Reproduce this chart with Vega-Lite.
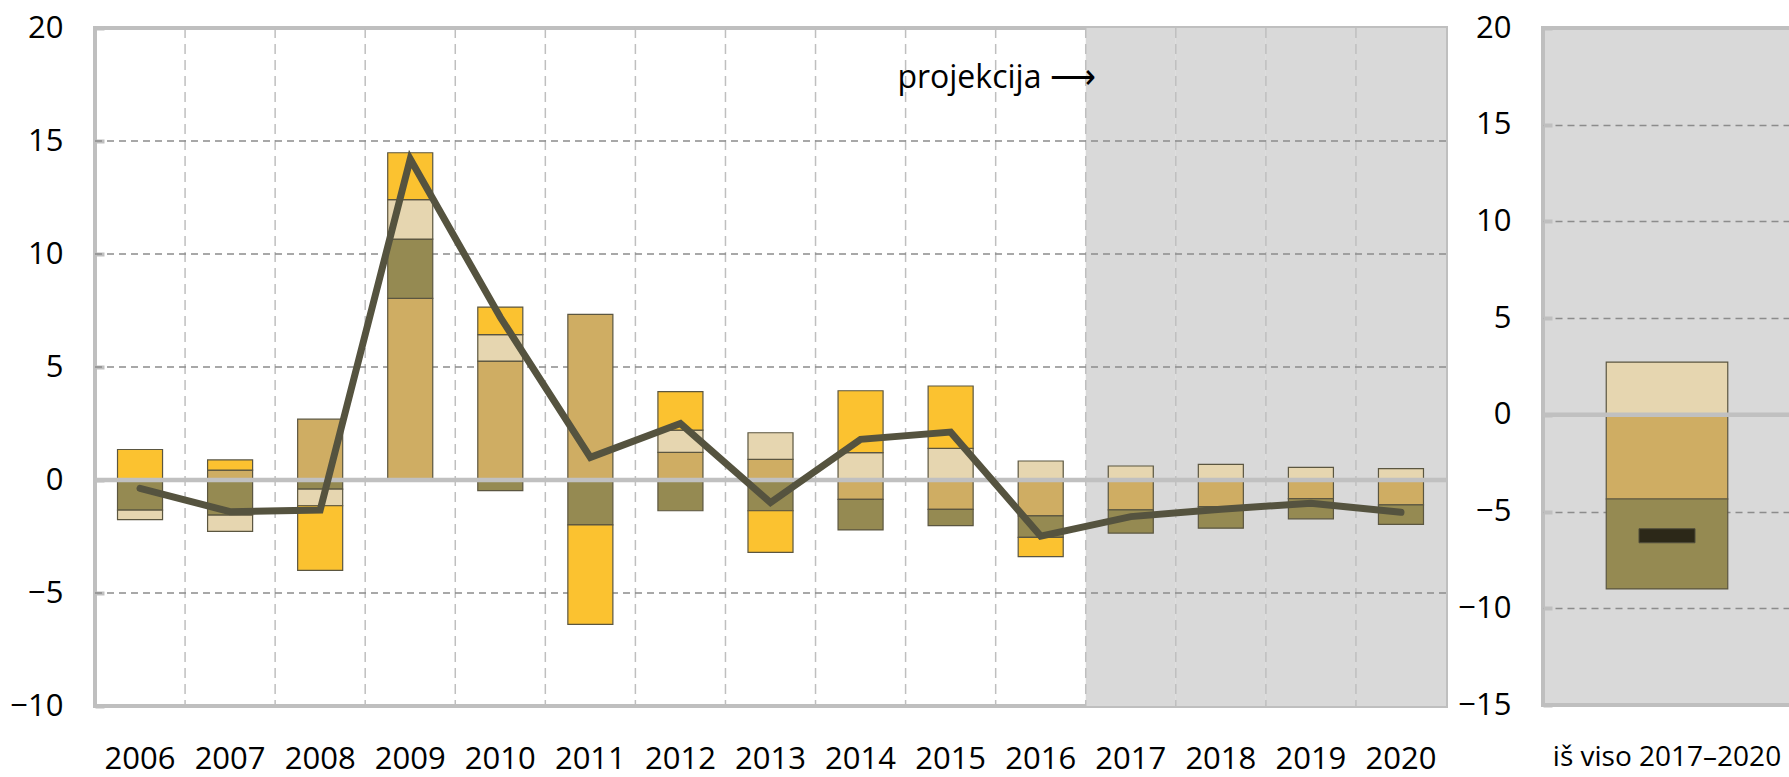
{
  "$schema": "https://vega.github.io/schema/vega-lite/v6.json",
  "padding": {"left": 7, "top": 10, "right": 0, "bottom": 0},
  "background": "white",
  "spacing": 4,
  "config": {
    "view": {"stroke": "#bfbfbf", "strokeWidth": 4},
    "axis": {"labelFont": "Open Sans", "labelFontSize": 31, "labelColor": "#000000", "domain": false, "ticks": false, "labelLimit": 0}
  },
  "datasets": {
    "proj": [{"year": 2017}, {"year": 2018}, {"year": 2019}, {"year": 2020}],
    "vgrid": [{"year": 2007}, {"year": 2008}, {"year": 2009}, {"year": 2010}, {"year": 2011}, {"year": 2012}, {"year": 2013}, {"year": 2014}, {"year": 2015}, {"year": 2016}, {"year": 2017}, {"year": 2018}, {"year": 2019}, {"year": 2020}],
    "hgrid": [{"v": -5}, {"v": 5}, {"v": 10}, {"v": 15}],
    "bars": [
      {"year": 2006, "comp": "yellow", "ord": 4, "value": 1.35},
      {"year": 2006, "comp": "olive", "ord": 2, "value": -1.33},
      {"year": 2006, "comp": "beige", "ord": 3, "value": -0.42},
      {"year": 2007, "comp": "tan", "ord": 1, "value": 0.44},
      {"year": 2007, "comp": "yellow", "ord": 4, "value": 0.45},
      {"year": 2007, "comp": "olive", "ord": 2, "value": -1.55},
      {"year": 2007, "comp": "beige", "ord": 3, "value": -0.72},
      {"year": 2008, "comp": "tan", "ord": 1, "value": 2.69},
      {"year": 2008, "comp": "olive", "ord": 2, "value": -0.4},
      {"year": 2008, "comp": "beige", "ord": 3, "value": -0.74},
      {"year": 2008, "comp": "yellow", "ord": 4, "value": -2.86},
      {"year": 2009, "comp": "tan", "ord": 1, "value": 8.04},
      {"year": 2009, "comp": "olive", "ord": 2, "value": 2.62},
      {"year": 2009, "comp": "beige", "ord": 3, "value": 1.75},
      {"year": 2009, "comp": "yellow", "ord": 4, "value": 2.07},
      {"year": 2010, "comp": "tan", "ord": 1, "value": 5.26},
      {"year": 2010, "comp": "beige", "ord": 3, "value": 1.17},
      {"year": 2010, "comp": "yellow", "ord": 4, "value": 1.22},
      {"year": 2010, "comp": "olive", "ord": 2, "value": -0.47},
      {"year": 2011, "comp": "tan", "ord": 1, "value": 7.33},
      {"year": 2011, "comp": "olive", "ord": 2, "value": -1.99},
      {"year": 2011, "comp": "yellow", "ord": 4, "value": -4.4},
      {"year": 2012, "comp": "tan", "ord": 1, "value": 1.22},
      {"year": 2012, "comp": "beige", "ord": 3, "value": 0.99},
      {"year": 2012, "comp": "yellow", "ord": 4, "value": 1.7},
      {"year": 2012, "comp": "olive", "ord": 2, "value": -1.36},
      {"year": 2013, "comp": "tan", "ord": 1, "value": 0.91},
      {"year": 2013, "comp": "beige", "ord": 3, "value": 1.18},
      {"year": 2013, "comp": "olive", "ord": 2, "value": -1.36},
      {"year": 2013, "comp": "yellow", "ord": 4, "value": -1.84},
      {"year": 2014, "comp": "beige", "ord": 3, "value": 1.21},
      {"year": 2014, "comp": "yellow", "ord": 4, "value": 2.74},
      {"year": 2014, "comp": "tan", "ord": 1, "value": -0.86},
      {"year": 2014, "comp": "olive", "ord": 2, "value": -1.35},
      {"year": 2015, "comp": "beige", "ord": 3, "value": 1.4},
      {"year": 2015, "comp": "yellow", "ord": 4, "value": 2.76},
      {"year": 2015, "comp": "tan", "ord": 1, "value": -1.3},
      {"year": 2015, "comp": "olive", "ord": 2, "value": -0.72},
      {"year": 2016, "comp": "beige", "ord": 3, "value": 0.84},
      {"year": 2016, "comp": "tan", "ord": 1, "value": -1.59},
      {"year": 2016, "comp": "olive", "ord": 2, "value": -0.95},
      {"year": 2016, "comp": "yellow", "ord": 4, "value": -0.85},
      {"year": 2017, "comp": "beige", "ord": 3, "value": 0.62},
      {"year": 2017, "comp": "tan", "ord": 1, "value": -1.32},
      {"year": 2017, "comp": "olive", "ord": 2, "value": -1.03},
      {"year": 2018, "comp": "beige", "ord": 3, "value": 0.69},
      {"year": 2018, "comp": "tan", "ord": 1, "value": -1.18},
      {"year": 2018, "comp": "olive", "ord": 2, "value": -0.95},
      {"year": 2019, "comp": "beige", "ord": 3, "value": 0.56},
      {"year": 2019, "comp": "tan", "ord": 1, "value": -0.82},
      {"year": 2019, "comp": "olive", "ord": 2, "value": -0.9},
      {"year": 2020, "comp": "beige", "ord": 3, "value": 0.5},
      {"year": 2020, "comp": "tan", "ord": 1, "value": -1.1},
      {"year": 2020, "comp": "olive", "ord": 2, "value": -0.86}
    ],
    "line": [
      {"year": 2006, "v": -0.37},
      {"year": 2007, "v": -1.4},
      {"year": 2008, "v": -1.33},
      {"year": 2009, "v": 14.2},
      {"year": 2010, "v": 7.2},
      {"year": 2011, "v": 1.0},
      {"year": 2012, "v": 2.5},
      {"year": 2013, "v": -1.0},
      {"year": 2014, "v": 1.8},
      {"year": 2015, "v": 2.12},
      {"year": 2016, "v": -2.48},
      {"year": 2017, "v": -1.62},
      {"year": 2018, "v": -1.29},
      {"year": 2019, "v": -1.03},
      {"year": 2020, "v": -1.43}
    ],
    "note": [{"year": 2016, "v": 17.33, "label": "projekcija ⟶"}],
    "total": [
      {"cat": "iš viso 2017–2020", "comp": "beige", "ord": 3, "value": 2.73},
      {"cat": "iš viso 2017–2020", "comp": "tan", "ord": 1, "value": -4.35},
      {"cat": "iš viso 2017–2020", "comp": "olive", "ord": 2, "value": -4.65}
    ],
    "marker": [{"cat": "iš viso 2017–2020", "v": -6.25}]
  },
  "hconcat": [
    {
      "width": 1351,
      "height": 678,
      "view": {"fill": "white"},
      "layer": [
        {
          "data": {"name": "proj"},
          "mark": {"type": "bar", "color": "#d9d9d9", "width": {"band": 1}},
          "encoding": {
            "x": {"field": "year", "type": "ordinal", "scale": {"type": "band", "domain": [2006, 2007, 2008, 2009, 2010, 2011, 2012, 2013, 2014, 2015, 2016, 2017, 2018, 2019, 2020], "paddingInner": 0, "paddingOuter": 0}, "axis": {"title": null, "labelPadding": 38, "labelAngle": 0, "grid": false}},
            "y": {"datum": 20, "type": "quantitative", "scale": {"domain": [-10, 20], "nice": false, "zero": false}, "axis": {"title": null, "values": [-10, -5, 0, 5, 10, 15, 20], "labelPadding": 41, "grid": false, "ticks": true, "tickSize": -9, "tickWidth": 4, "tickColor": "#bfbfbf"}},
            "y2": {"datum": -10}
          }
        },
        {
          "data": {"name": "vgrid"},
          "mark": {"type": "rule", "color": "#bfbfbf", "strokeWidth": 1.5, "strokeDash": [10, 6]},
          "encoding": {"x": {"field": "year", "type": "ordinal", "bandPosition": 0}}
        },
        {
          "data": {"name": "hgrid"},
          "mark": {"type": "rule", "color": "#8c8c8c", "strokeWidth": 1.5, "strokeDash": [7, 5]},
          "encoding": {"y": {"field": "v", "type": "quantitative"}}
        },
        {
          "data": {"name": "bars"},
          "mark": {"type": "bar", "width": {"band": 0.5}, "stroke": "#5b5640", "strokeWidth": 1.2},
          "encoding": {
            "x": {"field": "year", "type": "ordinal"},
            "y": {"field": "value", "type": "quantitative", "stack": "zero"},
            "color": {"field": "comp", "type": "nominal", "scale": {"domain": ["tan", "olive", "beige", "yellow"], "range": ["#cfad63", "#958a52", "#e6d6b0", "#fbc230"]}, "legend": null},
            "order": {"field": "ord", "type": "quantitative"}
          }
        },
        {
          "data": {"values": [{}]},
          "mark": {"type": "rule", "color": "#c0c0c0", "strokeWidth": 4.5},
          "encoding": {"y": {"datum": 0, "type": "quantitative"}}
        },
        {
          "data": {"name": "line"},
          "mark": {"type": "line", "color": "#55533f", "strokeWidth": 7, "strokeCap": "round", "strokeJoin": "miter"},
          "encoding": {
            "x": {"field": "year", "type": "ordinal"},
            "y": {"field": "v", "type": "quantitative"}
          }
        },
        {
          "data": {"name": "note"},
          "mark": {"type": "text", "font": "Open Sans", "fontSize": 32, "align": "right", "baseline": "alphabetic", "dx": 10, "color": "#000000"},
          "encoding": {
            "x": {"field": "year", "type": "ordinal", "bandPosition": 1},
            "y": {"field": "v", "type": "quantitative"},
            "text": {"field": "label"}
          }
        }
      ]
    },
    {
      "width": 248,
      "height": 677,
      "view": {"fill": "#d9d9d9"},
      "layer": [
        {
          "data": {"name": "total"},
          "mark": {"type": "bar", "width": {"band": 0.49}, "stroke": "#5b5640", "strokeWidth": 1.2},
          "encoding": {
            "x": {"field": "cat", "type": "nominal", "scale": {"type": "band", "paddingInner": 0, "paddingOuter": 0}, "axis": {"title": null, "labelPadding": 38, "labelAngle": 0, "labelFontSize": 28}},
            "y": {"field": "value", "type": "quantitative", "stack": "zero", "scale": {"domain": [-15, 20], "nice": false, "zero": false}, "axis": {"title": null, "values": [-15, -10, -5, 0, 5, 10, 15, 20], "labelPadding": 41, "ticks": true, "tickSize": -9, "tickWidth": 4, "tickColor": "#bfbfbf", "grid": true, "gridDash": [7, 5], "gridWidth": 1.5, "gridColor": {"condition": {"test": "datum.value == 0 || datum.value == 20 || datum.value == -15", "value": "transparent"}, "value": "#8c8c8c"}}},
            "color": {"field": "comp", "type": "nominal", "scale": {"domain": ["tan", "olive", "beige", "yellow"], "range": ["#cfad63", "#958a52", "#e6d6b0", "#fbc230"]}, "legend": null},
            "order": {"field": "ord", "type": "quantitative"}
          }
        },
        {
          "data": {"values": [{}]},
          "mark": {"type": "rule", "color": "#c0c0c0", "strokeWidth": 4.5},
          "encoding": {"y": {"datum": 0, "type": "quantitative"}}
        },
        {
          "data": {"name": "marker"},
          "mark": {"type": "tick", "color": "#000000", "thickness": 14, "size": 56, "stroke": "#333333", "strokeWidth": 1},
          "encoding": {
            "x": {"field": "cat", "type": "nominal"},
            "y": {"field": "v", "type": "quantitative"}
          }
        }
      ]
    }
  ]
}
